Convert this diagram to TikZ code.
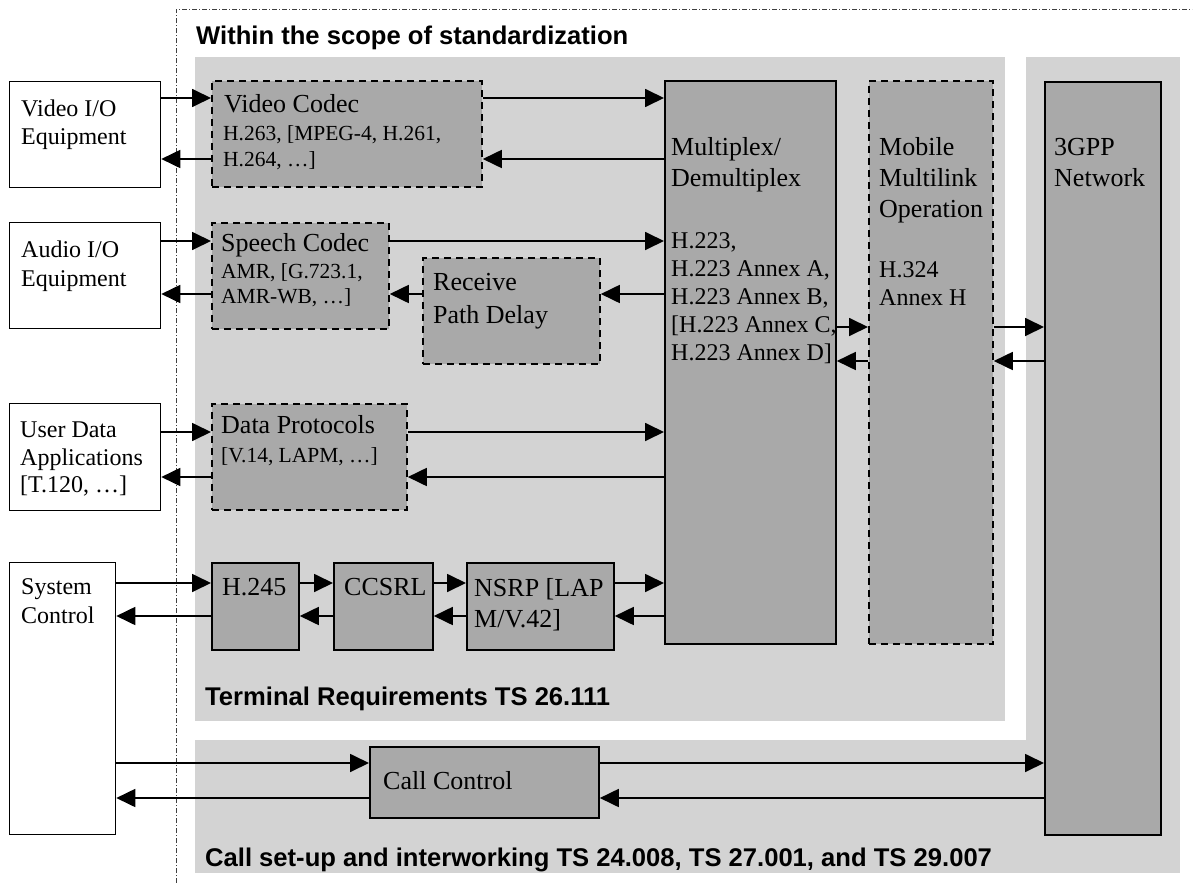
\documentclass[tikz,border=0pt]{standalone}
\usepackage{fontspec}
\setmainfont{Liberation Serif}
\setsansfont{Liberation Sans}
\usetikzlibrary{arrows.meta}

\definecolor{regiongray}{HTML}{D3D3D3}
\definecolor{boxgray}{HTML}{A9A9A9}

% multi-line text whose baseline is the first line
\newcommand\tlines[1]{\parbox[t]{400pt}{\raggedright #1}}

\begin{document}
\begin{tikzpicture}[x=1pt,y=-1pt,
  region/.style={fill=regiongray},
  blk/.style={draw=black, line width=1.8pt, fill=boxgray, inner sep=0pt, anchor=north west},
  dblk/.style={blk, dash pattern=on 7pt off 5pt},
  iobox/.style={draw=black, line width=1.3pt, fill=white, inner sep=0pt, anchor=north west},
  arr/.style={line width=1.8pt, -{Triangle[length=19pt,width=18pt]}},
  scopeline/.style={draw=black!75, line width=0.8pt, dash pattern=on 5pt off 2pt on 1pt off 2pt},
  txt/.style={inner sep=0pt, anchor=base west},
  big/.style={txt, font=\fontsize{26}{30.8}\selectfont},
  mid/.style={txt, font=\fontsize{24}{28.2}\selectfont},
  small/.style={txt, font=\fontsize{21.5}{25.5}\selectfont},
  head/.style={txt, font=\fontsize{25.6}{30}\selectfont\sffamily\bfseries}
]
\useasboundingbox (0,0) rectangle (1194,883);

% shaded areas
\fill[region] (195,57) rectangle (1005,721);
\fill[region] (195,740) rectangle (1180,873);
\fill[region] (1026,57) rectangle (1180,873);

% limit of the standardized scope
\draw[scopeline] (176,883) -- (176,9) -- (1192,9);

% external equipment
\node[iobox, minimum width=151pt, minimum height=106pt] (vio) at (9,81) {};
\node[iobox, minimum width=151pt, minimum height=106pt] (aio) at (9,222) {};
\node[iobox, minimum width=151pt, minimum height=107pt] (udata) at (9,403) {};
\node[iobox, minimum width=106pt, minimum height=272pt] (sysc) at (9,562) {};

% terminal blocks
\node[dblk, minimum width=270pt, minimum height=106pt] (vc) at (211,80) {};
\node[dblk, minimum width=177pt, minimum height=106pt] (sc) at (211,222) {};
\node[dblk, minimum width=177pt, minimum height=106pt] (rpd) at (422,257) {};
\node[dblk, minimum width=195pt, minimum height=106pt] (dp) at (211,403) {};
\node[blk, minimum width=87pt, minimum height=87pt] (h245) at (211,562) {};
\node[blk, minimum width=99pt, minimum height=87pt] (ccsrl) at (333,562) {};
\node[blk, minimum width=147pt, minimum height=87pt] (nsrp) at (466,562) {};
\node[blk, minimum width=171pt, minimum height=563pt] (mux) at (664,80) {};
\node[dblk, minimum width=124pt, minimum height=563pt] (mml) at (868,80) {};
\node[blk, minimum width=116pt, minimum height=753pt] (net) at (1044,81) {};
\node[blk, minimum width=229pt, minimum height=71pt] (cc) at (369,746) {};

% arrow levels
\coordinate (a1) at (0,98);
\coordinate (a2) at (0,159);
\coordinate (b1) at (0,241);
\coordinate (b2) at (0,294);
\coordinate (m1) at (0,327);
\coordinate (m2) at (0,361);
\coordinate (d1) at (0,432);
\coordinate (d2) at (0,477);
\coordinate (s1) at (0,583);
\coordinate (s2) at (0,616);
\coordinate (c1) at (0,763);
\coordinate (c2) at (0,798);

% video path
\draw[arr] (vio.east |- a1) -- (vc.west |- a1);
\draw[arr] (vc.east |- a1) -- (mux.west |- a1);
\draw[arr] (mux.west |- a2) -- (vc.east |- a2);
\draw[arr] (vc.west |- a2) -- (vio.east |- a2);

% audio path
\draw[arr] (aio.east |- b1) -- (sc.west |- b1);
\draw[arr] (sc.east |- b1) -- (mux.west |- b1);
\draw[arr] (mux.west |- b2) -- (rpd.east |- b2);
\draw[arr] (rpd.west |- b2) -- (sc.east |- b2);
\draw[arr] (sc.west |- b2) -- (aio.east |- b2);

% multilink and network
\draw[arr] (mux.east |- m1) -- (mml.west |- m1);
\draw[arr] (mml.east |- m1) -- (net.west |- m1);
\draw[arr] (net.west |- m2) -- (mml.east |- m2);
\draw[arr] (mml.west |- m2) -- (mux.east |- m2);

% data path
\draw[arr] (udata.east |- d1) -- (dp.west |- d1);
\draw[arr] (dp.east |- d1) -- (mux.west |- d1);
\draw[arr] (mux.west |- d2) -- (dp.east |- d2);
\draw[arr] (dp.west |- d2) -- (udata.east |- d2);

% control path
\draw[arr] (sysc.east |- s1) -- (h245.west |- s1);
\draw[arr] (h245.east |- s1) -- (ccsrl.west |- s1);
\draw[arr] (ccsrl.east |- s1) -- (nsrp.west |- s1);
\draw[arr] (nsrp.east |- s1) -- (mux.west |- s1);
\draw[arr] (mux.west |- s2) -- (nsrp.east |- s2);
\draw[arr] (nsrp.west |- s2) -- (ccsrl.east |- s2);
\draw[arr] (ccsrl.west |- s2) -- (h245.east |- s2);
\draw[arr] (h245.west |- s2) -- (sysc.east |- s2);

% call control path
\draw[arr] (sysc.east |- c1) -- (cc.west |- c1);
\draw[arr] (cc.east |- c1) -- (net.west |- c1);
\draw[arr] (net.west |- c2) -- (cc.east |- c2);
\draw[arr] (cc.west |- c2) -- (sysc.east |- c2);

% labels
\node[head] (t-scope) at (196,45) {Within the scope of standardization};
\node[head] (t-term) at (205,705) {Terminal Requirements TS 26.111};
\node[head] (t-call) at (205,866) {Call set-up and interworking TS 24.008, TS 27.001, and TS 29.007};

\node[mid, font=\fontsize{24}{28.5}\selectfont] (vio-t) at (21,116) {\tlines{Video I/O\\Equipment}};
\node[mid, font=\fontsize{24}{28.5}\selectfont] (aio-t) at (21,257.5) {\tlines{Audio I/O\\Equipment}};
\node[mid, font=\fontsize{24}{27.5}\selectfont] (udata-t) at (20,437.5) {\tlines{User Data\\Applications\\{[}T.120, …]}};
\node[mid, font=\fontsize{24}{29}\selectfont] (sysc-t) at (21,594) {\tlines{System\\Control}};

\node[big] (vc-t) at (224,112) {Video Codec};
\node[small, font=\fontsize{21.5}{26}\selectfont] (vc-d) at (223,140) {\tlines{H.263, [MPEG-4, H.261,\\H.264, …]}};
\node[big] (sc-t) at (221,251) {Speech Codec};
\node[small, font=\fontsize{21.5}{25}\selectfont] (sc-d) at (221,278.5) {\tlines{AMR, [G.723.1,\\AMR-WB, …]}};
\node[big, font=\fontsize{26}{32.5}\selectfont] (rpd-t) at (433,290.5) {\tlines{Receive\\Path Delay}};
\node[big] (dp-t) at (221,433.5) {Data Protocols};
\node[small] (dp-d) at (221,462) {[V.14, LAPM, …]};

\node[big] (h245-t) at (222,595) {H.245};
\node[big] (ccsrl-t) at (344,595) {CCSRL};
\node[big, font=\fontsize{26}{31}\selectfont] (nsrp-t) at (474,596) {\tlines{NSRP [LAP\\M/V.42]}};

\node[big] (mux-t) at (671,155.5) {\tlines{Multiplex/\\Demultiplex}};
\node[mid] (mux-d) at (671,248) {\tlines{H.223,\\H.223 Annex A,\\H.223 Annex B,\\{[}H.223 Annex C,\\H.223 Annex D]}};
\node[big] (mml-t) at (879,155.5) {\tlines{Mobile\\Multilink\\Operation}};
\node[mid, font=\fontsize{24}{27.6}\selectfont] (mml-d) at (879,277.5) {\tlines{H.324\\Annex H}};
\node[big] (net-t) at (1054,155.5) {\tlines{3GPP\\Network}};
\node[big] (cc-t) at (383,789) {Call Control};
\end{tikzpicture}
\end{document}
